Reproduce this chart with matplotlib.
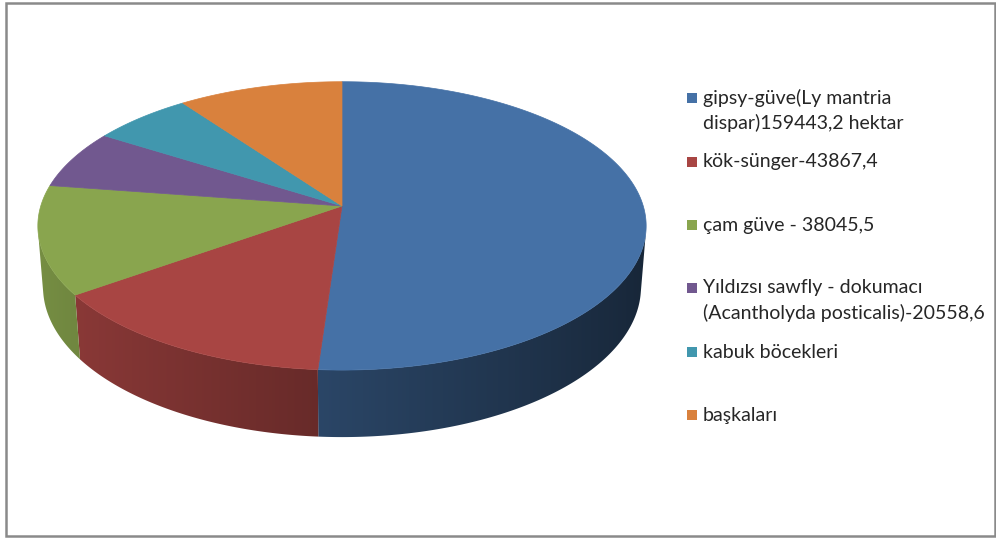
import numpy as np
import matplotlib
matplotlib.use("Agg")
import matplotlib.pyplot as plt
from matplotlib.patches import Polygon, Rectangle
from matplotlib.colors import to_rgb

# ---- data ----
labels = [
    "gipsy-güve(Ly mantria\ndispar)159443,2 hektar",
    "kök-sünger-43867,4",
    "çam güve - 38045,5",
    "Yıldızsı sawfly - dokumacı\n(Acantholyda posticalis)-20558,6",
    "kabuk böcekleri",
    "başkaları",
]
values = [159443.2, 43867.4, 38045.5, 20558.6, 18900, 31200]
colors = ["#4571A6", "#A84543", "#89A54E", "#71588F", "#4197AE", "#D9813D"]

# ---- 3D perspective projection settings ----
ELEV = np.radians(28.0)
DIST = 6.4
FOC = 1928.0
THICK = 0.232
CX, CY = 342.0, 206.0
S, C = np.sin(ELEV), np.cos(ELEV)


def proj(x, y, z):
    depth = (y + DIST * C) * C - (z - DIST * S) * S
    u = x / depth * FOC
    v = ((y + DIST * C) * S + (z - DIST * S) * C) / depth * FOC
    return CX + u, CY - v


fig = plt.figure(figsize=(9.96, 5.38), dpi=100)
ax = fig.add_axes([0, 0, 1, 1])
ax.set_xlim(0, 996)
ax.set_ylim(538, 0)
ax.axis("off")

vals = np.array(values, dtype=float)
frac = vals / vals.sum()
cum = np.concatenate([[0], np.cumsum(frac)])
starts = np.pi / 2 - 2 * np.pi * cum[:-1]
ends = np.pi / 2 - 2 * np.pi * cum[1:]

vis_lim = -1.0 / (DIST * C)

# side faces (gradient images clipped to each slice's visible side)
for st, en, col in zip(starts, ends, colors):
    base = np.array(to_rgb(col))
    ts = np.linspace(st, en, 800)
    ts = ts[np.sin(ts) < vis_lim]
    if len(ts) < 2:
        continue
    tx, ty = proj(np.cos(ts), np.sin(ts), 0 * ts)
    bx, by = proj(np.cos(ts), np.sin(ts), -THICK + 0 * ts)
    poly = np.column_stack([np.concatenate([tx, bx[::-1]]),
                            np.concatenate([ty, by[::-1]])])
    patch = Polygon(poly, closed=True, facecolor="none", edgecolor="none")
    ax.add_patch(patch)
    x0, x1 = poly[:, 0].min() - 1, poly[:, 0].max() + 1
    y0, y1 = poly[:, 1].min() - 1, poly[:, 1].max() + 1
    xs = np.linspace(x0, x1, 400)
    order = np.argsort(tx)
    tcol = np.interp(xs, tx[order], ts[order])
    fac = 0.6 - 0.27 * np.cos(tcol)
    img = np.clip(base[None, :] * fac[:, None], 0, 1)[None, :, :]
    img = np.repeat(img, 2, axis=0)
    im = ax.imshow(img, extent=[x0, x1, y1, y0], aspect="auto",
                   interpolation="bilinear", zorder=1)
    im.set_clip_path(patch)

# top faces
for st, en, col in zip(starts, ends, colors):
    n = max(int(np.degrees(st - en) * 2), 2)
    ts = np.linspace(st, en, n + 1)
    px, py = proj(np.cos(ts), np.sin(ts), 0 * ts)
    cx, cy = proj(0.0, 0.0, 0.0)
    pts = np.column_stack([np.concatenate([[cx], px]), np.concatenate([[cy], py])])
    ax.add_patch(Polygon(pts, closed=True, facecolor=col, edgecolor=col,
                         lw=0.5, zorder=2))

# legend
leg_y = [98, 162, 225, 288, 352, 415]
for lab, col, y in zip(labels, colors, leg_y):
    ax.add_patch(Rectangle((687, y - 5), 10, 10, facecolor=col, edgecolor="none"))
    for i, line in enumerate(lab.split("\n")):
        ax.text(703, y + i * 25, line, fontsize=14, family=["Lato", "DejaVu Sans"],
                va="center", ha="left", color="#262626")

ax.set_xlim(0, 996)
ax.set_ylim(538, 0)

# border
ax.add_patch(Rectangle((6, 3), 989, 533, facecolor="none", edgecolor="#8a8a8a",
                       lw=1.8, zorder=5))

fig.savefig("out.png", dpi=100)
